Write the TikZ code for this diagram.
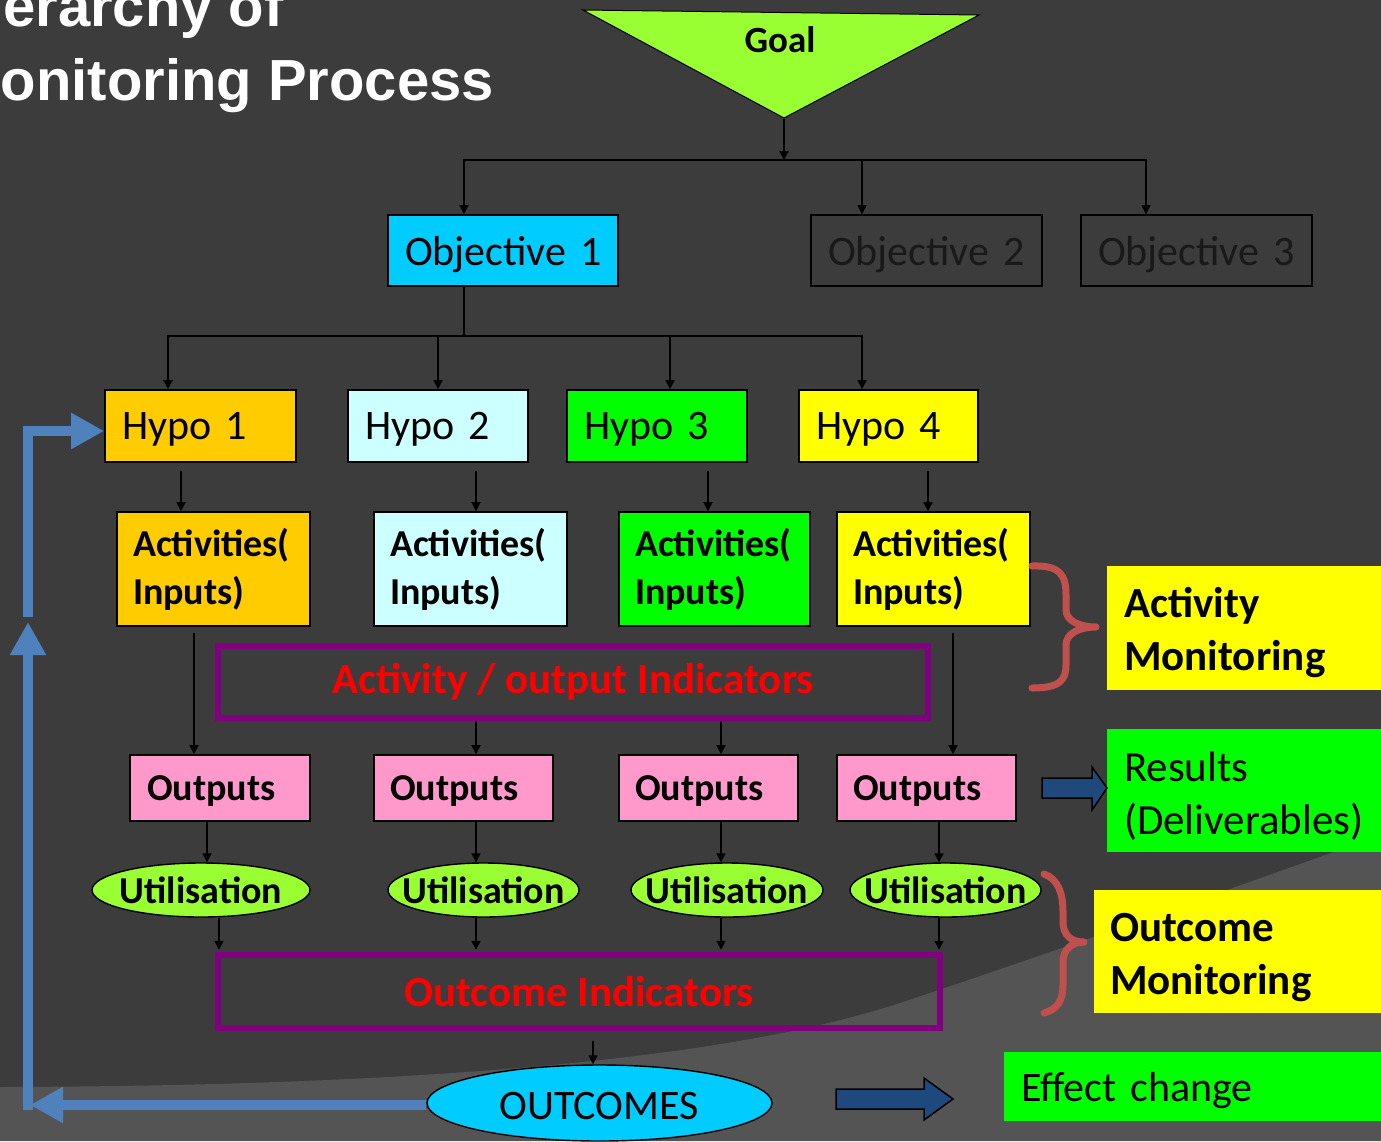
\documentclass[tikz,border=0pt]{standalone}
\usepackage{fontspec}
\setmainfont{Carlito}
\newfontfamily\titlefont{Liberation Sans}
\usetikzlibrary{arrows.meta,shapes.geometric}

\definecolor{bgdark}{HTML}{3C3C3C}
\definecolor{bglight}{HTML}{545454}
\definecolor{skyc}{HTML}{00CCFF}
\definecolor{hypoa}{HTML}{FFCC00}
\definecolor{hypob}{HTML}{CCFFFF}
\definecolor{hgreen}{HTML}{00FF00}
\definecolor{hyellow}{HTML}{FFFF00}
\definecolor{pinkbox}{HTML}{FF99CC}
\definecolor{lime}{HTML}{99FF33}
\definecolor{purp}{HTML}{800080}
\definecolor{redtext}{HTML}{FF0000}
\definecolor{fbblue}{HTML}{4F81BD}
\definecolor{bracered}{HTML}{C0504D}
\definecolor{navy}{HTML}{1F497D}

\newcommand\setfs[2]{\fontsize{#1}{#2}\selectfont}
% taller first line pushes a two-line panel text slightly down
\newcommand\firststrut{\rule{0pt}{40pt}}

\begin{document}
\begin{tikzpicture}[x=1pt,y=-1pt,
  conn/.style={draw=black,line width=1.4pt,-{Triangle[length=9pt,width=9pt]}},
  plain/.style={draw=black,line width=1.4pt},
  box/.style={draw=black,line width=1.6pt,inner xsep=17pt,inner ysep=0pt,align=left,font=\setfs{42}{50}},
  oneline/.style={text depth=0pt},
  boldbox/.style={box,font=\bfseries\setfs{38}{48}},
  util/.style={ellipse,draw=black,line width=1.4pt,fill=lime,inner sep=0pt},
  utiltext/.style={inner sep=0pt,font=\bfseries\setfs{38}{38}},
  indic/.style={draw=purp,line width=5.5pt,inner sep=0pt,text=redtext,font=\bfseries\setfs{43}{43}},
  side/.style={inner xsep=17pt,inner ysep=0pt,align=left},
  fb/.style={draw=fbblue,line width=10pt,-{Triangle[length=33pt,width=34pt]}},
  bracestroke/.style={draw=bracered,line width=7pt,line cap=round,line join=round},
  blockarrow/.style={draw=black,line width=1.5pt,fill=navy,line join=miter}
]
\useasboundingbox (0,0) rectangle (1381,1141);
\clip (0,0) rectangle (1381,1141);

% background
\fill[bgdark] (0,0) rectangle (1381,1141);
\fill[bglight] (0,1087) .. controls (400,1086) and (720,1062) .. (900,1003)
  .. controls (1050,953) and (1200,900) .. (1381,835) -- (1381,1141) -- (0,1141) -- cycle;

% title
\node[anchor=base east,inner sep=0pt,text=white,font=\titlefont\bfseries\setfs{58}{58}] (title1) at (284,26) {Hierarchy of};
\node[anchor=base east,inner sep=0pt,text=white,font=\titlefont\bfseries\setfs{58}{58}] (title2) at (494,100) {Monitoring Process};

% goal
\draw[fill=lime,draw=black,line width=1pt] (583,10) -- (979,15) -- (784,118) -- cycle;
\node[inner sep=0pt,font=\bfseries\setfs{37}{37}] (goal) at (780,40) {Goal};
\coordinate (goaltip) at (784,119);
\coordinate (bus1) at (784,160);
\coordinate (bus2) at (464,336);

% objectives
\node[box,oneline,fill=skyc,minimum height=71pt,text width=196pt] (o1) at (503,250.5) {Objective~1};
\node[box,oneline,text=black!90,minimum height=71pt,text width=197pt] (o2) at (926.5,250.5) {Objective~2};
\node[box,oneline,text=black!90,minimum height=71pt,text width=197pt] (o3) at (1196.5,250.5) {Objective~3};

% hypotheses
\node[box,oneline,fill=hypoa,minimum height=72pt,text width=157pt] (h1) at (200.5,426) {Hypo~1};
\node[box,oneline,fill=hypob,minimum height=72pt,text width=146pt] (h2) at (438,426) {Hypo~2};
\node[box,oneline,fill=hgreen,minimum height=72pt,text width=146pt] (h3) at (657,426) {Hypo~3};
\node[box,oneline,fill=hyellow,minimum height=72pt,text width=145pt] (h4) at (888.5,426) {Hypo~4};

% activities
\node[boldbox,inner xsep=16pt,fill=hypoa,minimum height=114pt,text width=161pt] (a1) at (213.5,569) {Activities(\\Inputs)};
\node[boldbox,inner xsep=16pt,fill=hypob,minimum height=114pt,text width=161pt] (a2) at (470.5,569) {Activities(\\Inputs)};
\node[boldbox,inner xsep=16pt,fill=hgreen,minimum height=114pt,text width=159pt] (a3) at (714.5,569) {Activities(\\Inputs)};
\node[boldbox,inner xsep=16pt,fill=hyellow,minimum height=114pt,text width=161pt] (a4) at (933.5,569) {Activities(\\Inputs)};

% indicator frames
\node[indic,minimum width=710pt,minimum height=72pt] (ind1) at (573,682) {Activity / output Indicators};
\node[indic,minimum width=722pt,minimum height=73pt] (ind2) at (579,991.5) {Outcome Indicators};

% outputs
\node[boldbox,oneline,fill=pinkbox,minimum height=66pt,text width=146pt] (p1) at (220,788) {Outputs};
\node[boldbox,oneline,inner xsep=16pt,fill=pinkbox,minimum height=66pt,text width=147pt] (p2) at (463.5,788) {Outputs};
\node[boldbox,oneline,inner xsep=16pt,fill=pinkbox,minimum height=66pt,text width=147pt] (p3) at (708.5,788) {Outputs};
\node[boldbox,oneline,inner xsep=16pt,fill=pinkbox,minimum height=66pt,text width=147pt] (p4) at (926.5,788) {Outputs};

% utilisation
\node[util,minimum width=218pt,minimum height=54pt] (u1) at (201,890) {};
\node[util,minimum width=191pt,minimum height=54pt] (u2) at (483.5,890) {};
\node[util,minimum width=192pt,minimum height=54pt] (u3) at (727,890) {};
\node[util,minimum width=191pt,minimum height=54pt] (u4) at (945.5,890) {};
\node[utiltext] (u1t) at (u1) {Utilisation};
\node[utiltext] (u2t) at (u2) {Utilisation};
\node[utiltext] (u3t) at (u3) {Utilisation};
\node[utiltext] (u4t) at (u4) {Utilisation};

% outcomes
\node[ellipse,draw=black,line width=1.4pt,fill=skyc,minimum width=345pt,minimum height=76pt,inner sep=0pt] (oc) at (599.5,1103) {};
\node[inner sep=0pt,font=\setfs{42}{42}] (oct) at (599,1106) {OUTCOMES};

% side panels
\node[side,fill=hyellow,minimum height=124pt,text width=250pt,font=\bfseries\setfs{43}{53}] (am) at (1249,628) {\firststrut Activity\\Monitoring};
\node[side,fill=hgreen,minimum height=123pt,text width=250pt,font=\setfs{43}{53}] (rd) at (1249,790.5) {\firststrut Results\\(Deliverables)};
\node[side,inner xsep=16pt,fill=hyellow,minimum height=123pt,text width=265pt,font=\bfseries\setfs{43}{53}] (om) at (1242.5,951.5) {\firststrut Outcome\\Monitoring};
\node[side,oneline,fill=hgreen,minimum height=69pt,text width=353pt,font=\setfs{42}{42}] (ec) at (1197.5,1086.5) {Effect~change};

% goal to objectives
\draw[conn] (goaltip) -- (bus1);
\draw[conn] (bus1) -| ([xshift=-39pt]o1.north);
\draw[conn] (bus1) -| ([xshift=-64.5pt]o2.north);
\draw[conn] (bus1) -| ([xshift=-50.5pt]o3.north);

% objective 1 to hypotheses
\draw[plain] ([xshift=-39pt]o1.south) -- (bus2);
\draw[conn] (bus2) -| ([xshift=-32.5pt]h1.north);
\draw[conn] (bus2) -| (h2.north);
\draw[conn] (bus2) -| ([xshift=13pt]h3.north);
\draw[conn] (bus2) -| ([xshift=-26.5pt]h4.north);

% hypotheses to activities
\draw[conn] ([xshift=-19.5pt,yshift=-8pt]h1.south) -- ([xshift=-32.5pt]a1.north);
\draw[conn] ([xshift=38pt,yshift=-8pt]h2.south) -- ([xshift=5.5pt]a2.north);
\draw[conn] ([xshift=51pt,yshift=-8pt]h3.south) -- ([xshift=-6.5pt]a3.north);
\draw[conn] ([xshift=39.5pt,yshift=-8pt]h4.south) -- ([xshift=-5.5pt]a4.north);

% activities to outputs
\draw[conn] ([xshift=-19.5pt,yshift=-6pt]a1.south) -- ([xshift=-26pt]p1.north);
\draw[conn] ([xshift=-97pt]ind1.south) -- ([xshift=12.5pt]p2.north);
\draw[conn] ([xshift=148pt]ind1.south) -- ([xshift=12.5pt]p3.north);
\draw[conn] ([xshift=19.5pt,yshift=-6pt]a4.south) -- ([xshift=26.5pt]p4.north);

% outputs to utilisation
\draw[conn] ([xshift=-13pt]p1.south) -- ([xshift=6pt]u1.north);
\draw[conn] ([xshift=12.5pt]p2.south) -- ([xshift=-7.5pt]u2.north);
\draw[conn] ([xshift=12.5pt]p3.south) -- ([xshift=-6pt]u3.north);
\draw[conn] ([xshift=12.5pt]p4.south) -- ([xshift=-6.5pt]u4.north);

% utilisation to outcome indicators
\draw[conn] ([xshift=18pt]u1.south) -- ([xshift=-360pt,yshift=2.5pt]ind2.north);
\draw[conn] ([xshift=-7.5pt]u2.south) -- ([xshift=-103pt,yshift=2.5pt]ind2.north);
\draw[conn] ([xshift=-6pt]u3.south) -- ([xshift=142pt,yshift=2.5pt]ind2.north);
\draw[conn] ([xshift=-6.5pt]u4.south) -- ([xshift=360pt,yshift=2.5pt]ind2.north);

% outcome indicators to outcomes
\draw[conn] ([xshift=14pt,yshift=-10pt]ind2.south) -- ([xshift=-6.5pt]oc.north);

% feedback loop
\coordinate (fbcorner) at (30,1105);
\coordinate (fbbottom) at (28,1110);
\coordinate (fbup) at (28,622);
\coordinate (fbrestart) at (28,617);
\draw[fb] ([yshift=-2pt]oc.west) -- (fbcorner);
\draw[fb] (fbbottom) -- (fbup);
\draw[fb] (fbrestart) |- ([yshift=-5pt]h1.west);

% braces
\draw[bracestroke] (1032,566) .. controls (1060,565) and (1066,575) .. (1066,595) -- (1066,610)
  .. controls (1066,621) and (1080,627) .. (1096,627)
  .. controls (1080,627) and (1066,633) .. (1066,645) -- (1066,665)
  .. controls (1066,680) and (1060,688) .. (1032,688);
\draw[bracestroke] (1044,874) .. controls (1058,879) and (1063,893) .. (1063,912) -- (1063,922)
  .. controls (1063,935) and (1071,942) .. (1084,942)
  .. controls (1071,942) and (1063,950) .. (1063,962) -- (1063,985)
  .. controls (1063,1000) and (1058,1009) .. (1044,1013);

% block arrows
\draw[blockarrow] (1042,778) -- (1092,778) -- (1092,767) -- (1107,788) -- (1092,810) -- (1092,798) -- (1042,798) -- cycle;
\draw[blockarrow] (836,1089) -- (924,1089) -- (924,1078) -- (953,1099) -- (924,1120) -- (924,1109) -- (836,1109) -- cycle;
\end{tikzpicture}
\end{document}
